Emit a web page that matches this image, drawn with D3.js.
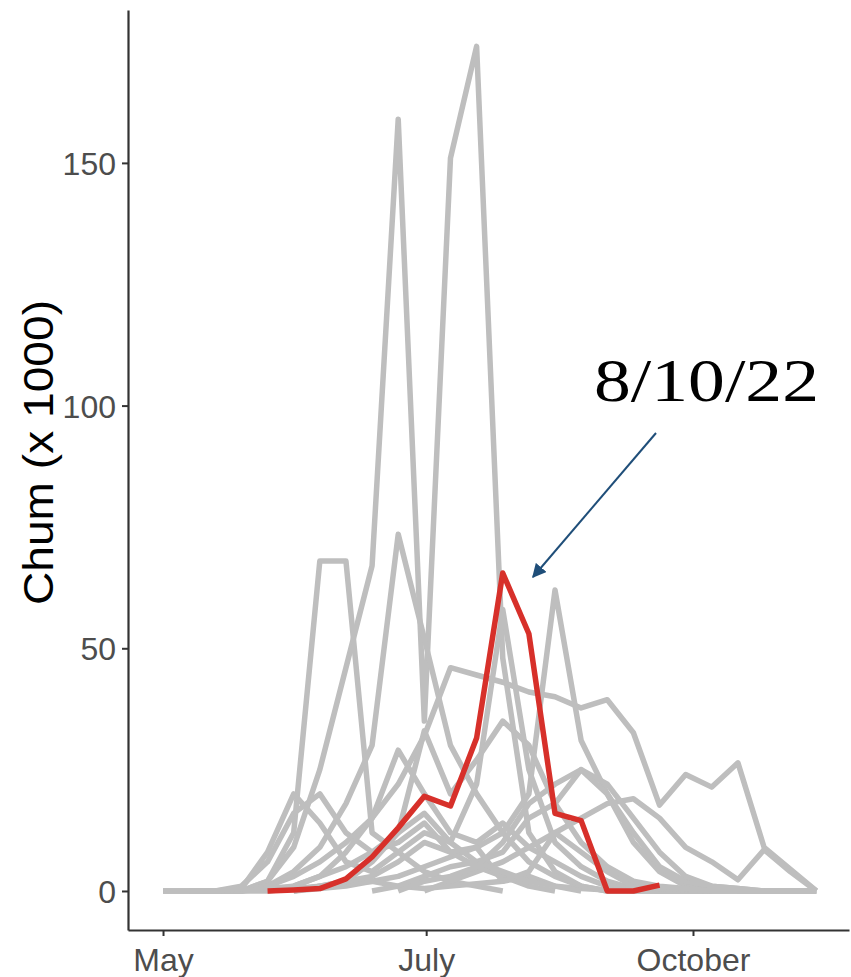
<!DOCTYPE html>
<html><head><meta charset="utf-8">
<script src="https://cdn.jsdelivr.net/npm/d3@7"></script>
<style>body{margin:0;background:#fff}svg{display:block}</style>
</head><body>
<script>
// ---- data (weekly counts, thousands of chum) ----
const yTicks = [0, 50, 100, 150];
const xTickWeeks = [0, 10.07, 20.28];
const xTickLabels = ["May", "July", "October"];
const annotationText = "8/10/22";
const yTitle = "Chum (x 1000)";

const highlightStart = 4;
const highlight2022 = [0, 0.2, 0.5, 2.5, 7, 13, 19.5, 17.5, 31.5, 65.5, 53, 16, 14.5, 0, 0, 1.2];

const runA = {start: 0, v: [0,0,0,0,2,9,25,46,67,159,35,151,174,48,12,4,1,0,0,0]};
const runB = {start: 0, v: [0,0,0,0,2,12,68,68,12,8,4,2,1,0]};
const runC = {start: 2, v: [0,0,1,4,9,18,30,73.5,52,30,20,12,6,3,1,0,0,0,0,0]};
const runD = {start: 1, v: [0,0,0,1,3,6,10,15,22,32,46,44.5,43,41,40,37.7,39.4,32.6,17.7,24,21.4,26.4,9,4.5,0]};
const runE = {start: 5, v: [0,0.5,1,2,3,5,7,9,12,20,62,31,20,10,4,1,0.5,0,0,0,0]};
const runF = {start: 4, v: [0,1,3,5,8,12,16,10,22,58,25,10,5,2,0.5,0,0,0]};
const runG = {start: 2, v: [0,1,6,16,20,12,8,10,14,8,5,3,1,0]};
const runH = {start: 3, v: [0,0.5,1,3,8,15,29,20,12,10,14,9,6,3,1,0.5,0,0,0]};
const runI = {start: 8, v: [0,1,3,5,6,8,15,18,25,20,12,5,2,1,0.5,0,0,0]};
const runJ = {start: 10, v: [0,2,4,6,9,12,15,18,19,15,9,6,2.3,8.5,4,0]};
const runK = {start: 0, v: [0,0,0,0,0,0.5,1,1.5,2,1,0.5,1,1.5,2,3,1,0.5,0.2,0,0,0,0,0,0,0,0]};
const runL = {start: 5, v: [0,1,2,3,6,10,8,9,2,4,12,8,4,1,0.5,0.3,0,0,0,0]};
const runM = {start: 2, v: [0,0.5,8,20,14,6,4,8,12,10,6,4,2,1,0]};
const runN = {start: 9, v: [0,2,3,5,10,18,22,25,22,15,8,3,1,0.5,0,0,0]};
const runO = {start: 5, v: [0,1,2,6,12,33,20,27,35,30,18,10,5,2,1,0.5,0,0,0]};
const grayRuns = [runA, runB, runC, runD, runE, runF, runG, runH, runI, runJ, runK, runL, runM, runN, runO];

// ---- drawing ----
const W = 851, H = 977;
const svg = d3.select("body").append("svg").attr("width", W).attr("height", H);

const x = d3.scaleLinear().domain([-1.34, 26.25]).range([128, 849]);
const y = d3.scaleLinear().domain([-8.04, 181.5]).range([930, 10]);

const toPts = r => r.v.map((val, i) => ({w: r.start + i, val}));
const line = d3.line().x(d => x(d.w)).y(d => y(d.val));

const g = svg.append("g");
g.selectAll("path.gray").data(grayRuns).join("path")
  .attr("class", "gray")
  .attr("d", r => line(toPts(r)))
  .attr("fill", "none").attr("stroke", "#bebebe").attr("stroke-width", 5.5)
  .attr("stroke-linejoin", "round");

g.append("path")
  .attr("d", line(toPts({start: highlightStart, v: highlight2022})))
  .attr("fill", "none").attr("stroke", "#d7302a").attr("stroke-width", 5.5)
  .attr("stroke-linejoin", "round");

// axes
const yAxis = d3.axisLeft(y).tickValues(yTicks).tickSize(6).tickSizeOuter(0).tickPadding(6);
const yg = svg.append("g").attr("transform", "translate(128,0)").call(yAxis);
const xAxis = d3.axisBottom(x).tickValues(xTickWeeks).tickFormat((d, i) => xTickLabels[i]).tickSize(6).tickSizeOuter(0).tickPadding(6);
const xg = svg.append("g").attr("transform", "translate(0,930)").call(xAxis);

[yg, xg].forEach(a => {
  a.select(".domain").attr("stroke", "#333").attr("stroke-width", 2.2);
  a.selectAll(".tick line").attr("stroke", "#333").attr("stroke-width", 2);
  a.selectAll("text").attr("fill", "#4d4d4d").attr("font-family", "Liberation Sans, Arial, sans-serif").attr("font-size", 32);
});
xg.selectAll("text").attr("dy", "0.92em");
yg.selectAll("text").attr("dy", "0.36em");

// axis title
svg.append("text")
  .attr("transform", `translate(53,${(300 + 605) / 2}) rotate(-90)`)
  .attr("text-anchor", "middle")
  .attr("font-family", "Liberation Sans, Arial, sans-serif")
  .attr("font-size", 42).attr("fill", "#000")
  .attr("textLength", 305).attr("lengthAdjust", "spacingAndGlyphs")
  .text(yTitle);

// annotation
svg.append("text")
  .attr("x", 594).attr("y", 401)
  .attr("font-family", "Liberation Serif, DejaVu Serif, serif")
  .attr("font-size", 62).attr("fill", "#000")
  .attr("textLength", 225).attr("lengthAdjust", "spacingAndGlyphs")
  .text(annotationText);

const defs = svg.append("defs");
defs.append("marker").attr("id", "ah").attr("viewBox", "0 0 10 10")
  .attr("refX", 9).attr("refY", 5).attr("markerWidth", 7).attr("markerHeight", 7)
  .attr("orient", "auto")
  .append("path").attr("d", "M0,0 L10,5 L0,10 z").attr("fill", "#1f4e79");
svg.append("line")
  .attr("x1", 656).attr("y1", 433).attr("x2", 533).attr("y2", 577)
  .attr("stroke", "#1f4e79").attr("stroke-width", 2)
  .attr("marker-end", "url(#ah)");
</script>
</body></html>
